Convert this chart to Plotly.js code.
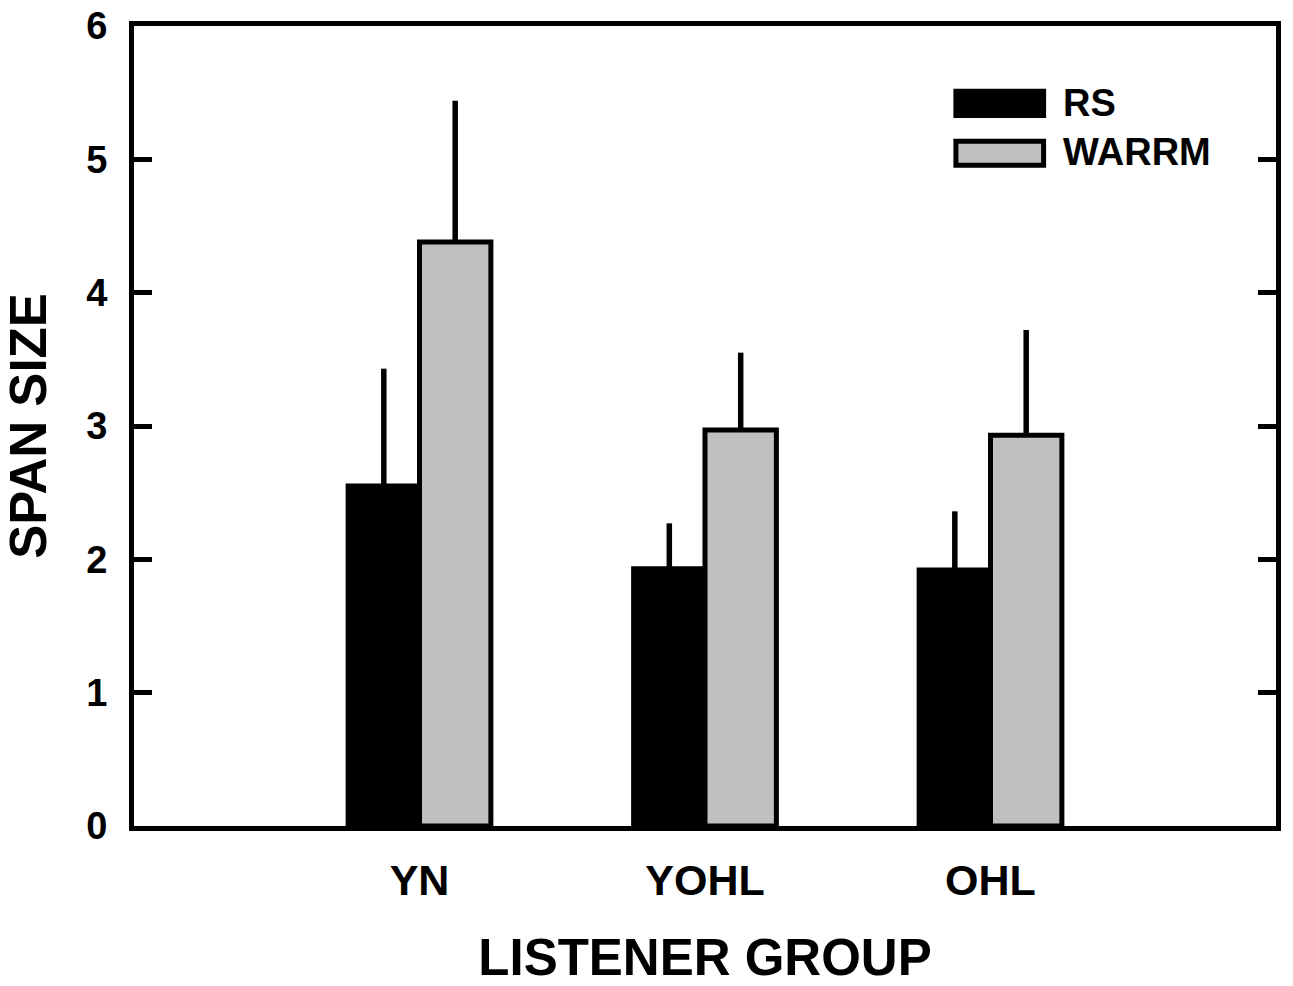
<!DOCTYPE html>
<html>
<head>
<meta charset="utf-8">
<script src="https://cdn.plot.ly/plotly-3.0.1.min.js"></script>
<style>html,body{margin:0;padding:0;background:#fff;}#chart{width:1293px;height:986px;}</style>
</head>
<body>
<div id="chart"></div>
<script>
var groups = ['YN', 'YOHL', 'OHL'];
var rsValues = [2.55, 1.93, 1.92];
var rsErrors = [0.88, 0.34, 0.44];
var warrmValues = [4.38, 2.97, 2.93];
var warrmErrors = [1.06, 0.58, 0.79];
var seriesNames = ['RS', 'WARRM'];
var yTicks = [0, 1, 2, 3, 4, 5, 6];

var font = {family: 'Arial, "Liberation Sans", sans-serif', color: '#000', weight: 'bold'};
function f(size) { return Object.assign({}, font, {size: size}); }

var traces = [
  {
    type: 'bar', name: seriesNames[0], x: groups, y: rsValues,
    marker: {color: '#000000', line: {color: '#000', width: 5}},
    error_y: {type: 'data', symmetric: false, array: rsErrors, arrayminus: [0, 0, 0], width: 0, thickness: 5.5, color: '#000'},
    showlegend: false, hoverinfo: 'skip'
  },
  {
    type: 'bar', name: seriesNames[1], x: groups, y: warrmValues,
    marker: {color: '#c0c0c0', line: {color: '#000', width: 5}},
    error_y: {type: 'data', symmetric: false, array: warrmErrors, arrayminus: [0, 0, 0], width: 0, thickness: 5.5, color: '#000'},
    showlegend: false, hoverinfo: 'skip'
  }
];

var layout = {
  width: 1293, height: 986,
  margin: {l: 134, r: 17, t: 26, b: 160},
  paper_bgcolor: '#fff', plot_bgcolor: '#fff',
  barmode: 'group', bargap: 0.5, bargroupgap: 0,
  showlegend: false,
  xaxis: {
    type: 'category', range: [-1, 3],
    showline: true, linewidth: 5, linecolor: '#000', mirror: true,
    ticks: '', showgrid: false, zeroline: false,
    tickfont: f(43), ticklabelstandoff: 12,
    title: {text: 'LISTENER GROUP', font: f(51), standoff: 38}
  },
  yaxis: {
    range: [0, 6], tickvals: yTicks, ticktext: yTicks.map(String),
    showline: true, linewidth: 5, linecolor: '#000', mirror: 'ticks',
    ticks: 'inside', ticklen: 18, tickwidth: 5, tickcolor: '#000',
    showgrid: false, zeroline: false,
    tickfont: f(38), ticklabelstandoff: 14,
    title: {text: 'SPAN SIZE', font: f(51), standoff: 32}
  },
  shapes: [
    {type: 'rect', xref: 'paper', yref: 'paper', x0: 0.7197, x1: 0.7965, y0: 0.888, y1: 0.9185,
     fillcolor: '#000', line: {color: '#000', width: 5}},
    {type: 'rect', xref: 'paper', yref: 'paper', x0: 0.7197, x1: 0.7965, y0: 0.826, y1: 0.856,
     fillcolor: '#c0c0c0', line: {color: '#000', width: 5}}
  ],
  annotations: [
    {xref: 'paper', yref: 'paper', x: 0.812, y: 0.904, xanchor: 'left', yanchor: 'middle', showarrow: false,
     text: seriesNames[0], font: f(38)},
    {xref: 'paper', yref: 'paper', x: 0.812, y: 0.842, xanchor: 'left', yanchor: 'middle', showarrow: false,
     text: seriesNames[1], font: f(38)}
  ]
};

Plotly.newPlot('chart', traces, layout, {displayModeBar: false, staticPlot: true});
</script>
</body>
</html>
